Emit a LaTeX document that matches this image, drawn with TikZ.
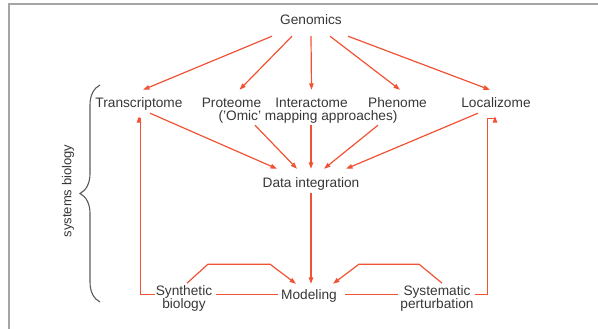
\documentclass[tikz,border=0pt]{standalone}
\usepackage{fontspec}
\setmainfont{Liberation Sans}
\usetikzlibrary{arrows.meta,calc,decorations.pathreplacing}
\definecolor{arrowred}{RGB}{240,82,52}
\definecolor{txtgray}{RGB}{55,55,55}
\definecolor{framegray}{RGB}{165,165,165}
\definecolor{bracegray}{RGB}{90,90,90}
\tikzset{
  lbl/.style={anchor=base, inner sep=0pt, text height=10pt, text depth=3pt, text=txtgray, font=\fontsize{13.7}{13}\selectfont},
  twoline/.style={inner sep=0pt, align=center, text=txtgray, font=\fontsize{13.7}{13.5}\selectfont},
  arr/.style={draw=arrowred, line width=1.2pt, -{Triangle[length=6.5pt,width=4.5pt]}},
  ln/.style={draw=arrowred, line width=1.2pt},
}
\begin{document}
\begin{tikzpicture}[x=1pt,y=-1pt]
\useasboundingbox (0,0) rectangle (598,329);
% frame
\draw[framegray, line width=1.3pt] (9,329) -- (9,4) -- (598,4);
% nodes
\node[lbl] (gen) at (311,25) {Genomics};
\node[lbl] (tr) at (139,107) {Transcriptome};
\node[lbl] (pr) at (231.5,107) {Proteome};
\node[lbl] (in) at (311.5,107) {Interactome};
\node[lbl] (ph) at (397.5,107) {Phenome};
\node[lbl] (lo) at (496,107) {Localizome};
\node[lbl] (omic) at (308,121) {('Omic' mapping approaches)};
\node[lbl] (di) at (311,187) {Data integration};
\node[lbl] (mod) at (309,299) {Modeling};
\node[twoline] (syn) at (184,298.5) {Synthetic\\biology};
\node[twoline] (sys) at (437,298.5) {Systematic\\perturbation};
% genomics arrows
\draw[arr] ($(gen.south)+(-39,8)$) -- ($(tr.north)+(4,-7)$);
\draw[arr] ($(gen.south)+(-19,8)$) -- ($(pr.north)+(8,-7)$);
\draw[arr] ($(gen.south)+(0,8)$) -- ($(in.north)+(0,-7)$);
\draw[arr] ($(gen.south)+(19,8)$) -- ($(ph.north)+(2.5,-7)$);
\draw[arr] ($(gen.south)+(37,8)$) -- ($(lo.north)+(-6,-7)$);
% to data integration
\draw[arr] ($(tr.south)+(11,3)$) -- ($(di.north)+(-34,-8)$);
\draw[arr] ($(omic.south)+(-53,1)$) -- ($(di.north)+(-14,-8)$);
\draw[arr] ($(omic.south)+(3,1)$) -- ($(di.north)+(0,-8)$);
\draw[arr] ($(omic.south)+(70,1)$) -- ($(di.north)+(13,-8)$);
\draw[arr] ($(lo.south)+(-18,3)$) -- ($(di.north)+(35,-8)$);
% data integration to modeling
\draw[arr] ($(di.south)+(0,3)$) -- ($(mod.north)+(2,-5)$);
% feedback loops
\draw[arr] ($(syn.west)+(-1,-4)$) -- ($(syn.west)+(-15,-4)$) |- ($(tr.south)+(0,8)$) -- ($(tr.south)+(0,6)$);
\draw[arr] ($(sys.east)+(1,-4)$) -- ($(sys.east)+(14,-4)$) |- ($(lo.south)+(-1,8)$) -- ($(lo.south)+(-1,6)$);
% side arrows into modeling
\draw[arr] ($(syn.north)+(3,-2)$) -- ++(21,-19) -- ++(62,0) -- ($(mod.north west)+(15,-5)$);
\draw[arr] ($(sys.north)+(5,-2)$) -- ++(-23,-19) -- ++(-60,0) -- ($(mod.north east)+(-4,-5)$);
% lines between bottom nodes
\draw[ln] ($(syn.east)+(4,-4)$) -- ($(syn.east -| mod.west)+(-3,-4)$);
\draw[ln] ($(syn.east -| mod.east)+(8,-4)$) -- ($(sys.west)+(-2,-4)$);
% brace
\draw[bracegray, line width=1.1pt, decorate, decoration={brace, amplitude=20pt}] (100,302) -- (100,85);
\node[rotate=90, text=txtgray, font=\fontsize{13}{13}\selectfont, inner sep=0pt] (sb) at (68,191) {systems biology};
\end{tikzpicture}
\end{document}
